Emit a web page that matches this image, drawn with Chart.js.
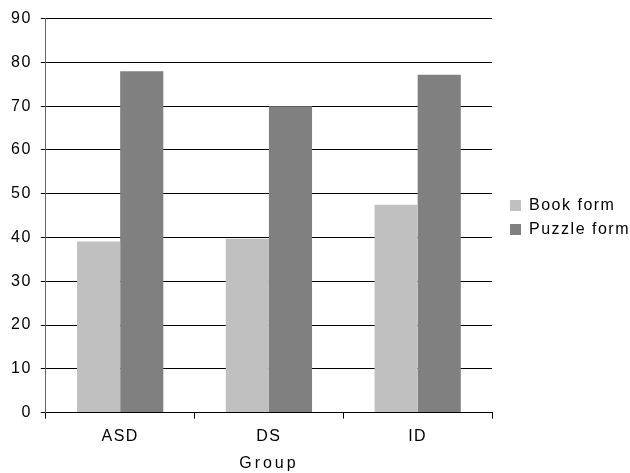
<!DOCTYPE html>
<html><head><meta charset="utf-8">
<script src="https://cdn.jsdelivr.net/npm/chart.js@4"></script>
<style>html,body{margin:0;padding:0;background:#fff}#wrap{width:630px;height:473px}</style>
</head><body><div id="wrap"><canvas id="c" width="630" height="473"></canvas></div>
<script>
const categories = ["ASD", "DS", "ID"];
const seriesNames = ["Book form", "Puzzle form"];
const bookForm = [39.1, 39.7, 47.5];
const puzzleForm = [78, 70, 77.2];
const yTicks = [0, 10, 20, 30, 40, 50, 60, 70, 80, 90];
const xTitle = "Group";

const font = {family: "'Liberation Sans', Arial, sans-serif", size: 16};

const spacingPlugin = {
  id: 'spacing',
  beforeUpdate(chart) { chart.ctx.letterSpacing = '1.5px'; },
  afterLayout(chart) {
    const lg = chart.legend;
    if (lg) { lg.left += 10; lg.right += 10; lg.top += 2; lg.bottom += 2; }
  },
  beforeDraw(chart) {
    chart.ctx.letterSpacing = '1.5px';
    const s = chart.scales.x;
    if (s && !s._wrappedTitle) {
      const orig = s.drawTitle.bind(s);
      s.drawTitle = function () {
        const ctx = chart.ctx;
        const prev = ctx.letterSpacing;
        ctx.letterSpacing = '3px';
        orig();
        ctx.letterSpacing = prev;
      };
      s._wrappedTitle = true;
    }
  }
};

new Chart(document.getElementById('c'), {
  type: 'bar',
  data: {
    labels: categories,
    datasets: [
      {label: seriesNames[0], data: bookForm, backgroundColor: '#c0c0c0', categoryPercentage: 0.58, barPercentage: 1.0},
      {label: seriesNames[1], data: puzzleForm, backgroundColor: '#808080', categoryPercentage: 0.58, barPercentage: 1.0}
    ]
  },
  plugins: [spacingPlugin],
  options: {
    responsive: false,
    animation: false,
    devicePixelRatio: 1,
    layout: {padding: {top: 8, left: 2, right: 0, bottom: 0}},
    plugins: {
      legend: {
        position: 'right',
        align: 'center',
        fullSize: false,
        labels: {boxWidth: 11, boxHeight: 11, padding: 8, color: '#000', font: font}
      },
      tooltip: {enabled: false}
    },
    scales: {
      x: {
        grid: {display: true, drawOnChartArea: false, drawTicks: true, tickLength: 6, color: '#000', offset: true},
        border: {color: '#000', width: 1},
        ticks: {color: '#000', font: font, padding: 8},
        title: {display: true, text: xTitle, color: '#000', font: font, padding: {top: 0, bottom: 0}}
      },
      y: {
        min: 0, max: 90,
        afterBuildTicks: (s) => { s.ticks = yTicks.map(v => ({value: v})); },
        grid: {color: '#000', lineWidth: 1, tickLength: 5, drawTicks: true},
        border: {color: '#666', width: 1},
        ticks: {color: '#000', font: font, padding: 9}
      }
    }
  }
});
</script></body></html>
